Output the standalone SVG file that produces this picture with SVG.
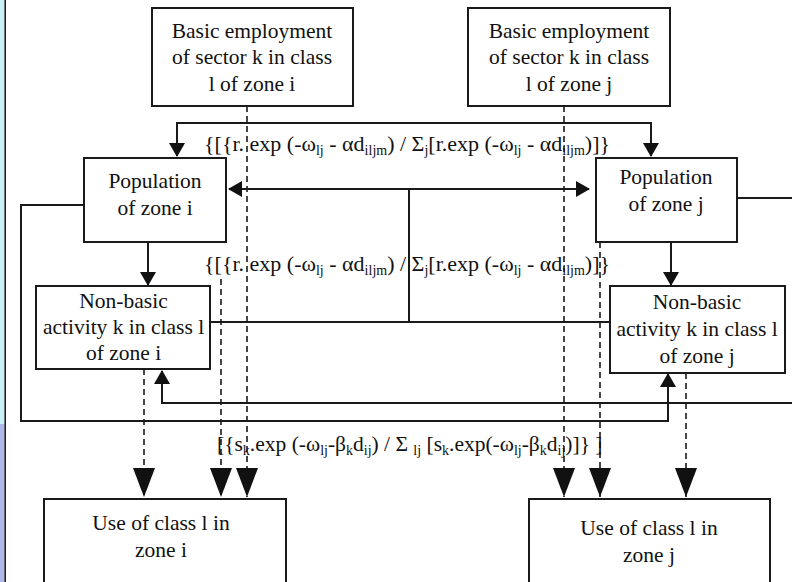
<svg xmlns="http://www.w3.org/2000/svg" width="792" height="582" viewBox="0 0 792 582">
  <style>
    .box { fill: #fff; stroke: #1a1a1a; stroke-width: 2; }
    .t { font-family: "Liberation Serif", "Times New Roman", serif; font-size: 21.5px; fill: #111; text-anchor: middle; }
    .f { font-family: "Liberation Serif", "Times New Roman", serif; font-size: 21.5px; fill: #111; }
    .f2 { font-size: 22px; }
    .s { font-size: 14px; }
    .ln { fill: none; stroke: #1a1a1a; stroke-width: 2; }
    .dash { fill: none; stroke: #1a1a1a; stroke-width: 1.6; stroke-dasharray: 6 4; }
  </style>
  <defs>
    <marker id="ah" viewBox="0 0 14 16" refX="13" refY="8" markerWidth="14" markerHeight="16" markerUnits="userSpaceOnUse" orient="auto-start-reverse">
      <path d="M0,0 L14,8 L0,16 z" fill="#111"/>
    </marker>
    <marker id="big" viewBox="0 0 29 22" refX="29" refY="11" markerWidth="29" markerHeight="22" markerUnits="userSpaceOnUse" orient="auto">
      <path d="M0,0 L29,11 L0,22 z" fill="#111"/>
    </marker>
  </defs>

  <rect width="792" height="582" fill="#fff"/>
  <!-- window edge strip on the left -->
  <rect x="0" y="0" width="4.5" height="424" fill="#c9f2f8"/>
  <rect x="0" y="424" width="4.5" height="158" fill="#aeb7e7"/>
  <line x1="5.2" y1="0" x2="5.2" y2="582" stroke="#111" stroke-width="1.5"/>

  <!-- connectors -->
  <g id="connectors">
    <path class="ln" d="M177,156 V123 H651 V156" marker-start="url(#ah)" marker-end="url(#ah)"/>
    <path class="ln" d="M229,189 H589" marker-start="url(#ah)" marker-end="url(#ah)"/>
    <path class="ln" d="M409,189 V322"/>
    <path class="ln" d="M210,322 H610"/>
    <path class="ln" d="M148,242 V285" marker-end="url(#ah)"/>
    <path class="ln" d="M671,242 V285" marker-end="url(#ah)"/>
    <path class="ln" d="M84,205 H21 V421 H668 V374" marker-end="url(#ah)"/>
    <path class="ln" d="M737,198 H792"/>
    <path class="ln" d="M792,403 H162 V371" marker-end="url(#ah)"/>

    <path class="dash" d="M247,106 V497" marker-end="url(#big)"/>
    <path class="dash" d="M564,106 V497" marker-end="url(#big)"/>
    <path class="dash" d="M221,279 V497" marker-end="url(#big)"/>
    <path class="dash" d="M600,242 V497" marker-end="url(#big)"/>
    <path class="dash" d="M144,369 V497" marker-end="url(#big)"/>
    <path class="dash" d="M686,373 V497" marker-end="url(#big)"/>

    <text class="f f2" x="204" y="151">{[{r. exp (-ω<tspan class="s" dy="4">lj</tspan><tspan dy="-4"> - αd</tspan><tspan class="s" dy="4">iljm</tspan><tspan dy="-4">) / Σ</tspan><tspan class="s" dy="4">j</tspan><tspan dy="-4">[r.exp (-ω</tspan><tspan class="s" dy="4">lj</tspan><tspan dy="-4"> - αd</tspan><tspan class="s" dy="4">iljm</tspan><tspan dy="-4">)]}</tspan></text>
    <text class="f f2" x="204" y="271">{[{r. exp (-ω<tspan class="s" dy="4">lj</tspan><tspan dy="-4"> - αd</tspan><tspan class="s" dy="4">iljm</tspan><tspan dy="-4">) / Σ</tspan><tspan class="s" dy="4">j</tspan><tspan dy="-4">[r.exp (-ω</tspan><tspan class="s" dy="4">lj</tspan><tspan dy="-4"> - αd</tspan><tspan class="s" dy="4">iljm</tspan><tspan dy="-4">)]}</tspan></text>
    <text class="f" x="217" y="451">[{s<tspan class="s" dy="4">k</tspan><tspan dy="-4">.exp (-ω</tspan><tspan class="s" dy="4">lj</tspan><tspan dy="-4">-β</tspan><tspan class="s" dy="4">k</tspan><tspan dy="-4">d</tspan><tspan class="s" dy="4">ij</tspan><tspan dy="-4">) / Σ </tspan><tspan class="s" dy="4">lj</tspan><tspan dy="-4"> [s</tspan><tspan class="s" dy="4">k</tspan><tspan dy="-4">.exp(-ω</tspan><tspan class="s" dy="4">lj</tspan><tspan dy="-4">-β</tspan><tspan class="s" dy="4">k</tspan><tspan dy="-4">d</tspan><tspan class="s" dy="4">ij</tspan><tspan dy="-4">)]} ]</tspan></text>
  </g>

  <!-- nodes -->
  <g id="basic-i">
    <rect class="box" x="152" y="8" width="201" height="98"/>
    <text class="t" x="252" y="38">Basic employment</text>
    <text class="t" x="252" y="64">of sector k in class</text>
    <text class="t" x="252" y="91">l of zone i</text>
  </g>
  <g id="basic-j">
    <rect class="box" x="468" y="8" width="202" height="98"/>
    <text class="t" x="569" y="38">Basic employment</text>
    <text class="t" x="569" y="64">of sector k in class</text>
    <text class="t" x="569" y="91">l of zone j</text>
  </g>
  <g id="population-i">
    <rect class="box" x="84" y="158" width="142" height="84"/>
    <text class="t" x="155" y="188">Population</text>
    <text class="t" x="155" y="215">of zone i</text>
  </g>
  <g id="population-j">
    <rect class="box" x="596" y="158" width="141" height="84"/>
    <text class="t" x="666" y="184">Population</text>
    <text class="t" x="666" y="211">of zone j</text>
  </g>
  <g id="nonbasic-i">
    <rect class="box" x="36" y="286" width="174" height="83"/>
    <text class="t" x="123.5" y="308">Non-basic</text>
    <text class="t" x="123.5" y="334">activity k in class l</text>
    <text class="t" x="123.5" y="360">of zone i</text>
  </g>
  <g id="nonbasic-j">
    <rect class="box" x="610" y="286" width="175" height="87"/>
    <text class="t" x="697" y="309">Non-basic</text>
    <text class="t" x="697" y="336">activity k in class l</text>
    <text class="t" x="697" y="363">of zone j</text>
  </g>
  <g id="use-i">
    <rect class="box" x="44" y="499" width="242" height="100"/>
    <text class="t" x="161" y="530">Use of class l in</text>
    <text class="t" x="161" y="557">zone i</text>
  </g>
  <g id="use-j">
    <rect class="box" x="529" y="499" width="241" height="100"/>
    <text class="t" x="649" y="535">Use of class l in</text>
    <text class="t" x="649" y="562">zone j</text>
  </g>
</svg>
